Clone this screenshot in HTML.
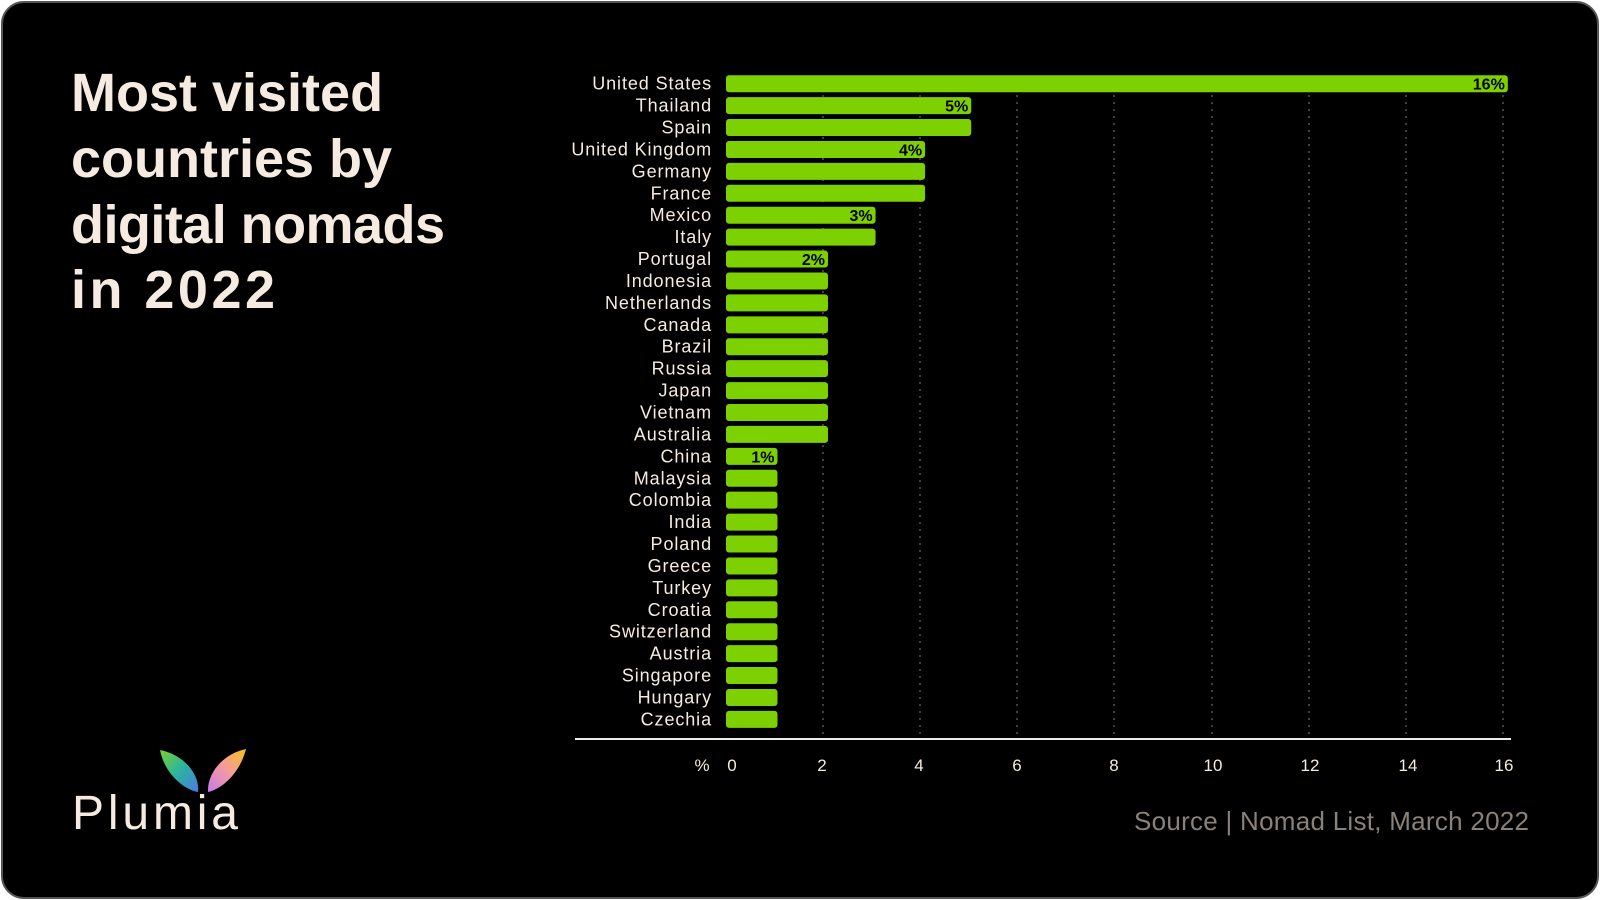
<!DOCTYPE html>
<html><head><meta charset="utf-8"><style>
html,body{margin:0;padding:0;background:#fff;}
svg{display:block;}
text{font-family:"Liberation Sans",sans-serif;}
</style></head><body>
<svg width="1600" height="900" viewBox="0 0 1600 900" xmlns="http://www.w3.org/2000/svg">
<defs>
<linearGradient id="f1" x1="0" y1="0" x2="1" y2="1"><stop offset="0" stop-color="#7ad12a"/><stop offset="0.5" stop-color="#2bb3a0"/><stop offset="1" stop-color="#4a7be0"/></linearGradient>
<linearGradient id="f2" x1="1" y1="0" x2="0" y2="1"><stop offset="0" stop-color="#f5c21a"/><stop offset="0.5" stop-color="#f59aa0"/><stop offset="1" stop-color="#c77ae8"/></linearGradient>
</defs>
<rect x="2" y="2" width="1596" height="896" rx="22" fill="#000" stroke="#555" stroke-width="2"/>
<g fill="#f5ebe0" font-weight="bold" font-size="54">
<text x="71" y="111">Most visited</text>
<text x="71" y="177">countries by</text>
<text x="71" y="243" textLength="374">digital nomads</text>
<text x="71" y="308" textLength="204">in 2022</text>
</g>
<g stroke="#555" stroke-width="1.5" stroke-dasharray="2,5">
<line x1="823" y1="95" x2="823" y2="735"/><line x1="920" y1="95" x2="920" y2="735"/><line x1="1017" y1="95" x2="1017" y2="735"/><line x1="1114" y1="95" x2="1114" y2="735"/><line x1="1212" y1="95" x2="1212" y2="735"/><line x1="1309" y1="95" x2="1309" y2="735"/><line x1="1406" y1="95" x2="1406" y2="735"/><line x1="1503" y1="95" x2="1503" y2="735"/>
</g>
<g id="bars" fill="#7ed100"></g>
<g id="labels" fill="#f5ebe0" font-size="18" letter-spacing="0.9" text-anchor="end"></g>
<g id="vals" fill="#000" font-size="16" font-weight="bold" text-anchor="end"></g>
<line x1="575" y1="739" x2="1511" y2="739" stroke="#f5ebe0" stroke-width="2"/>
<g fill="#f5ebe0" font-size="17" text-anchor="middle">
<text x="702" y="771">%</text><text x="732" y="771">0</text><text x="822" y="771">2</text><text x="919" y="771">4</text><text x="1017" y="771">6</text><text x="1114" y="771">8</text><text x="1213" y="771">10</text><text x="1310" y="771">12</text><text x="1408" y="771">14</text><text x="1504" y="771">16</text>
</g>
<text x="1134" y="830" fill="#8a8178" font-size="26" textLength="395">Source | Nomad List, March 2022</text>
<path d="M160 750 C185 755 200 775 198 792 C185 790 165 775 160 750 Z" fill="url(#f1)"/>
<path d="M246 749 C222 754 207 774 208 792 C222 789 240 773 246 749 Z" fill="url(#f2)"/>
<text x="72" y="829" fill="#f5ebe0" font-size="48" textLength="166">Plumia</text>
<script>
var d=[["United States",16.1,"16%"],["Thailand",5.05,"5%"],["Spain",5.05],["United Kingdom",4.1,"4%"],["Germany",4.1],["France",4.1],["Mexico",3.08,"3%"],["Italy",3.08],["Portugal",2.1,"2%"],["Indonesia",2.1],["Netherlands",2.1],["Canada",2.1],["Brazil",2.1],["Russia",2.1],["Japan",2.1],["Vietnam",2.1],["Australia",2.1],["China",1.06,"1%"],["Malaysia",1.06],["Colombia",1.06],["India",1.06],["Poland",1.06],["Greece",1.06],["Turkey",1.06],["Croatia",1.06],["Switzerland",1.06],["Austria",1.06],["Singapore",1.06],["Hungary",1.06],["Czechia",1.06]];
var ns="http://www.w3.org/2000/svg",B=document.getElementById("bars"),L=document.getElementById("labels"),V=document.getElementById("vals");
d.forEach(function(r,i){var cy=83.7+i*21.92,w=r[1]*48.56;
var b=document.createElementNS(ns,"rect");b.setAttribute("x",726);b.setAttribute("y",cy-8.5);b.setAttribute("width",w);b.setAttribute("height",17);b.setAttribute("rx",3);B.appendChild(b);
var t=document.createElementNS(ns,"text");t.setAttribute("x",712);t.setAttribute("y",cy+6);t.textContent=r[0];L.appendChild(t);
if(r[2]){var v=document.createElementNS(ns,"text");v.setAttribute("x",726+w-3);v.setAttribute("y",cy+6);v.textContent=r[2];V.appendChild(v);}
});
</script>
</svg>
</body></html>
